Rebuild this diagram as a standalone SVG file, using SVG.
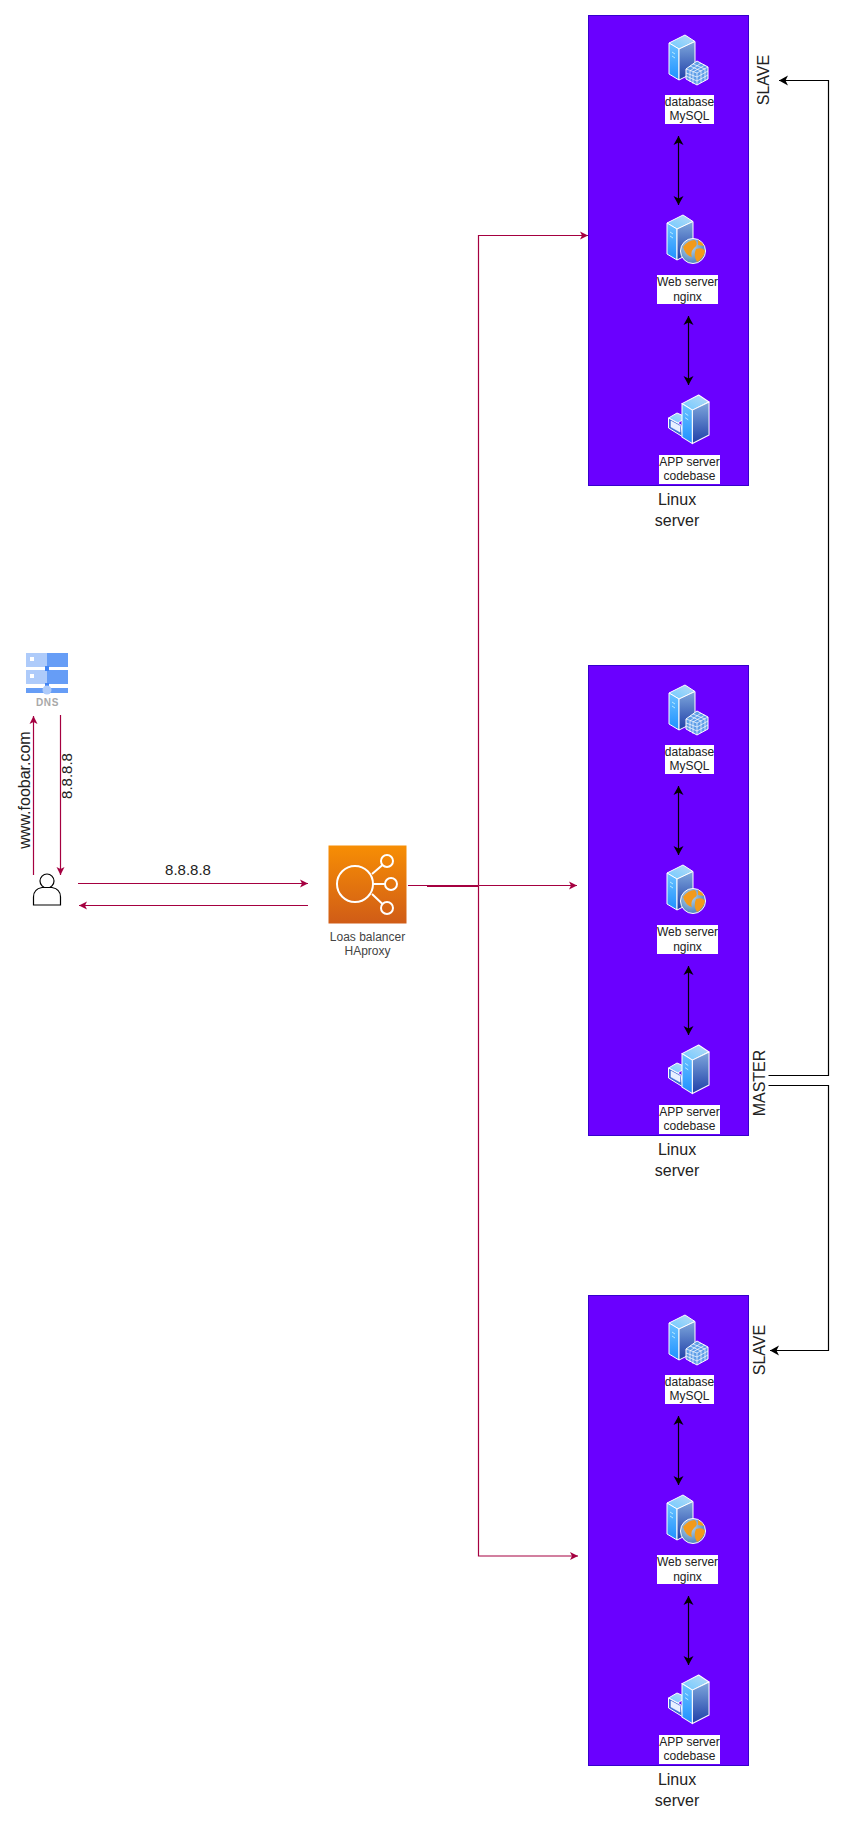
<svg xmlns="http://www.w3.org/2000/svg" width="854" height="1825" viewBox="0 0 854 1825">
<style>
text{font-family:"Liberation Sans",Arial,sans-serif;fill:#222;text-anchor:middle}
.small{font-size:12px}
.mid{font-size:16px}
.box{fill:#6a00ff;stroke:#3700cc;stroke-width:1}
.lab{fill:#fff}
.red{fill:none;stroke:#a50040;stroke-width:1.2}
.blk{fill:none;stroke:#000;stroke-width:1.2}
.edge{stroke:#fff;stroke-width:1;stroke-linejoin:round}
.grid{stroke:#fff;stroke-width:.7;fill:none}
</style>
<defs>
<linearGradient id="gTop" x1="0" y1="1" x2="1" y2="0"><stop offset="0" stop-color="#6fc8ff"/><stop offset="1" stop-color="#b9dcf5"/></linearGradient>
<linearGradient id="gLeft" x1="0" y1="0" x2="0" y2="1"><stop offset="0" stop-color="#6cc4ff"/><stop offset="1" stop-color="#1e90ff"/></linearGradient>
<linearGradient id="gRight" x1="0" y1="0" x2="0" y2="1"><stop offset="0" stop-color="#7fa8dc"/><stop offset="1" stop-color="#1f3fa8"/></linearGradient>
<linearGradient id="gLb" x1="0" y1="0" x2="0" y2="1"><stop offset="0" stop-color="#f78e04"/><stop offset="1" stop-color="#d05c17"/></linearGradient>
<radialGradient id="gGlobe" cx=".4" cy=".35" r=".75"><stop offset="0" stop-color="#b7d6ee"/><stop offset="1" stop-color="#3f78b8"/></radialGradient>
<marker id="mRed" markerUnits="userSpaceOnUse" markerWidth="10" markerHeight="10" refX="8" refY="5" orient="auto-start-reverse"><path d="M0 1 L8 5 L0 9 L2 5Z" fill="#a50040"/></marker>
<marker id="mBlk" markerUnits="userSpaceOnUse" markerWidth="12" markerHeight="12" refX="9" refY="6" orient="auto-start-reverse"><path d="M0 1 L9 6 L0 11 L2.500 6Z" fill="#000"/></marker>
<g id="tower">
<path class="edge" d="M0 8 L16 0 L26 6.500 L10 14Z" fill="url(#gTop)"/>
<path class="edge" d="M0 8 L10 14 L10 45 L0 39Z" fill="url(#gLeft)"/>
<path class="edge" d="M10 14 L26 6.500 L26 37 L10 45Z" fill="url(#gRight)"/>
<path d="M3 17 L6 19 M3 21 L6 23" stroke="#dff" stroke-width=".7"/>
</g>
<g id="icon-db">
<use href="#tower" x="669" y="35"/>
<path d="M686 69 L697 61 L708 67 L708 79 L697 85 L686 79Z" fill="#5f9fe8" stroke="#fff" stroke-width="1"/>
<path class="grid" d="M697 73 L697 85 M697 73 L686 69 M697 73 L708 67 M690 71 L690 82 M693 72 L693 84 M701 71 L701 83 M705 69 L705 81 M686 73 L697 77 L708 71 M686 76 L697 81 L708 75 M690 66 L701 71 M693 64 L705 69 M705 65 L693 72 M701 63 L690 71"/>
</g>
<g id="icon-web">
<use href="#tower" x="667" y="215"/>
<circle cx="693" cy="251" r="12.500" fill="url(#gGlobe)" stroke="#fff" stroke-width="1"/>
<path d="M683 247 Q688 240 695 240 Q699 245 694 248 Q690 252 692 257 Q686 256 683 247Z M696 249 Q703 247 705 251 Q704 258 697 262 Q693 256 696 249Z M698 240 Q702 242 704 246 L698 245Z" fill="#f29a1c"/>
</g>
<g id="icon-app">
<path class="edge" d="M668.500 418 L677 413 L686 417 L678 423Z" fill="url(#gTop)"/>
<path class="edge" d="M668.500 418 L681 425 L683 437 L668.500 428Z" fill="#3f6fd8"/>
<path d="M671 421 L680 426 L680 432 L671 427Z" fill="#e8f0ff" stroke="#fff" stroke-width=".5"/>
<use href="#tower" transform="translate(682 395) scale(1.04 1.08)"/>
</g>
</defs>
<rect width="854" height="1825" fill="#fff"/>

<g id="server-1">
<rect class="box" x="588.500" y="15.500" width="160" height="470"/>
<use href="#icon-db"/>
<rect class="lab" x="665" y="95" width="49" height="29"/>
<text class="small"><tspan x="689.500" y="106">database</tspan><tspan x="689.500" y="120">MySQL</tspan></text>
<use href="#icon-web"/>
<rect class="lab" x="657" y="275" width="61" height="29"/>
<text class="small"><tspan x="687.500" y="286">Web server</tspan><tspan x="687.500" y="301">nginx</tspan></text>
<use href="#icon-app"/>
<rect class="lab" x="659" y="455" width="61" height="29"/>
<text class="small"><tspan x="689.500" y="466">APP server</tspan><tspan x="689.500" y="480">codebase</tspan></text>
<text class="mid"><tspan x="677" y="505">Linux</tspan><tspan x="677" y="526">server</tspan></text>
<text class="mid" transform="translate(769 80) rotate(-90)">SLAVE</text>
</g>

<g id="server-2" transform="translate(0 650)">
<rect class="box" x="588.500" y="15.500" width="160" height="470"/>
<use href="#icon-db"/>
<rect class="lab" x="665" y="95" width="49" height="29"/>
<text class="small"><tspan x="689.500" y="106">database</tspan><tspan x="689.500" y="120">MySQL</tspan></text>
<use href="#icon-web"/>
<rect class="lab" x="657" y="275" width="61" height="29"/>
<text class="small"><tspan x="687.500" y="286">Web server</tspan><tspan x="687.500" y="301">nginx</tspan></text>
<use href="#icon-app"/>
<rect class="lab" x="659" y="455" width="61" height="29"/>
<text class="small"><tspan x="689.500" y="466">APP server</tspan><tspan x="689.500" y="480">codebase</tspan></text>
<text class="mid"><tspan x="677" y="505">Linux</tspan><tspan x="677" y="526">server</tspan></text>
<text class="mid" transform="translate(765 433) rotate(-90)">MASTER</text>
</g>

<g id="server-3" transform="translate(0 1280)">
<rect class="box" x="588.500" y="15.500" width="160" height="470"/>
<use href="#icon-db"/>
<rect class="lab" x="665" y="95" width="49" height="29"/>
<text class="small"><tspan x="689.500" y="106">database</tspan><tspan x="689.500" y="120">MySQL</tspan></text>
<use href="#icon-web"/>
<rect class="lab" x="657" y="275" width="61" height="29"/>
<text class="small"><tspan x="687.500" y="286">Web server</tspan><tspan x="687.500" y="301">nginx</tspan></text>
<use href="#icon-app"/>
<rect class="lab" x="659" y="455" width="61" height="29"/>
<text class="small"><tspan x="689.500" y="466">APP server</tspan><tspan x="689.500" y="480">codebase</tspan></text>
<text class="mid"><tspan x="677" y="505">Linux</tspan><tspan x="677" y="526">server</tspan></text>
<text class="mid" transform="translate(765 70) rotate(-90)">SLAVE</text>
</g>

<g id="dns">
<rect x="26" y="653" width="21" height="14" fill="#aecbfa"/><rect x="47" y="653" width="21" height="14" fill="#669df6"/>
<rect x="26" y="670" width="21" height="14" fill="#aecbfa"/><rect x="47" y="670" width="21" height="14" fill="#669df6"/>
<rect x="30" y="657" width="4" height="4" fill="#fff"/><rect x="30" y="674" width="4" height="4" fill="#fff"/>
<rect x="45" y="666" width="4" height="5" fill="#4285f4"/><rect x="45" y="683" width="4" height="5" fill="#4285f4"/>
<rect x="26" y="688" width="42" height="5" fill="#669df6"/>
<circle cx="47" cy="690" r="4.500" fill="#aecbfa"/>
<text x="47.500" y="706" style="font-size:10px;font-weight:bold;fill:#a8a8a8;letter-spacing:.6px">DNS</text>
</g>

<g id="user">
<circle cx="47" cy="881" r="7" fill="#fff" stroke="#000" stroke-width="1.200"/>
<path d="M33.500 905 L33.500 897 Q33.500 889 42 887.500 L52 887.500 Q60.500 889 60.500 897 L60.500 905Z" fill="#fff" stroke="#000" stroke-width="1.200"/>
</g>

<g id="load-balancer">
<rect x="328.500" y="845.500" width="78" height="78" fill="url(#gLb)"/>
<g fill="none" stroke="#fff" stroke-width="2">
<circle cx="355" cy="884" r="18"/><circle cx="387" cy="861" r="6"/><circle cx="391" cy="884" r="6"/><circle cx="387" cy="908" r="6"/>
<path d="M372 874 L382.500 865 M373 884 L385 884 M372 894 L382.500 904"/>
</g>
<text class="small" style="fill:#444"><tspan x="367.500" y="941">Loas balancer</tspan><tspan x="367.500" y="955">HAproxy</tspan></text>
</g>

<g id="connectors">
<path class="red" d="M408 885.500 H478 M478.500 885.500 V235.500 H588" marker-end="url(#mRed)"/>
<path class="red" style="stroke-width:2" d="M427 886 H478"/>
<path class="red" d="M478.500 885.500 H577" marker-end="url(#mRed)"/>
<path class="red" d="M478.500 885.500 V1556 H578" marker-end="url(#mRed)"/>
<path class="red" d="M78 883.500 H308" marker-end="url(#mRed)"/>
<path class="red" d="M308 905.500 H79" marker-end="url(#mRed)"/>
<path class="red" d="M33.500 875 V716" marker-end="url(#mRed)"/>
<path class="red" d="M60.500 715 V875" marker-end="url(#mRed)"/>
<path class="blk" d="M678.500 136 V205" marker-start="url(#mBlk)" marker-end="url(#mBlk)"/>
<path class="blk" d="M688.500 316 V385" marker-start="url(#mBlk)" marker-end="url(#mBlk)"/>
<path class="blk" d="M678.500 786 V855" marker-start="url(#mBlk)" marker-end="url(#mBlk)"/>
<path class="blk" d="M688.500 966 V1035" marker-start="url(#mBlk)" marker-end="url(#mBlk)"/>
<path class="blk" d="M678.500 1416 V1485" marker-start="url(#mBlk)" marker-end="url(#mBlk)"/>
<path class="blk" d="M688.500 1596 V1665" marker-start="url(#mBlk)" marker-end="url(#mBlk)"/>
<path class="blk" d="M768.500 1075.500 H828.500 V80.500 H779" marker-end="url(#mBlk)"/>
<path class="blk" d="M768.500 1085.500 H828.500 V1350.500 H770" marker-end="url(#mBlk)"/>
</g>

<g id="edge-labels">
<text class="mid" style="font-size:15px" x="188" y="875">8.8.8.8</text>
<text class="mid" transform="translate(30 790) rotate(-90)">www.foobar.com</text>
<text class="mid" style="font-size:15px" transform="translate(72 776) rotate(-90)">8.8.8.8</text>
</g>
</svg>
